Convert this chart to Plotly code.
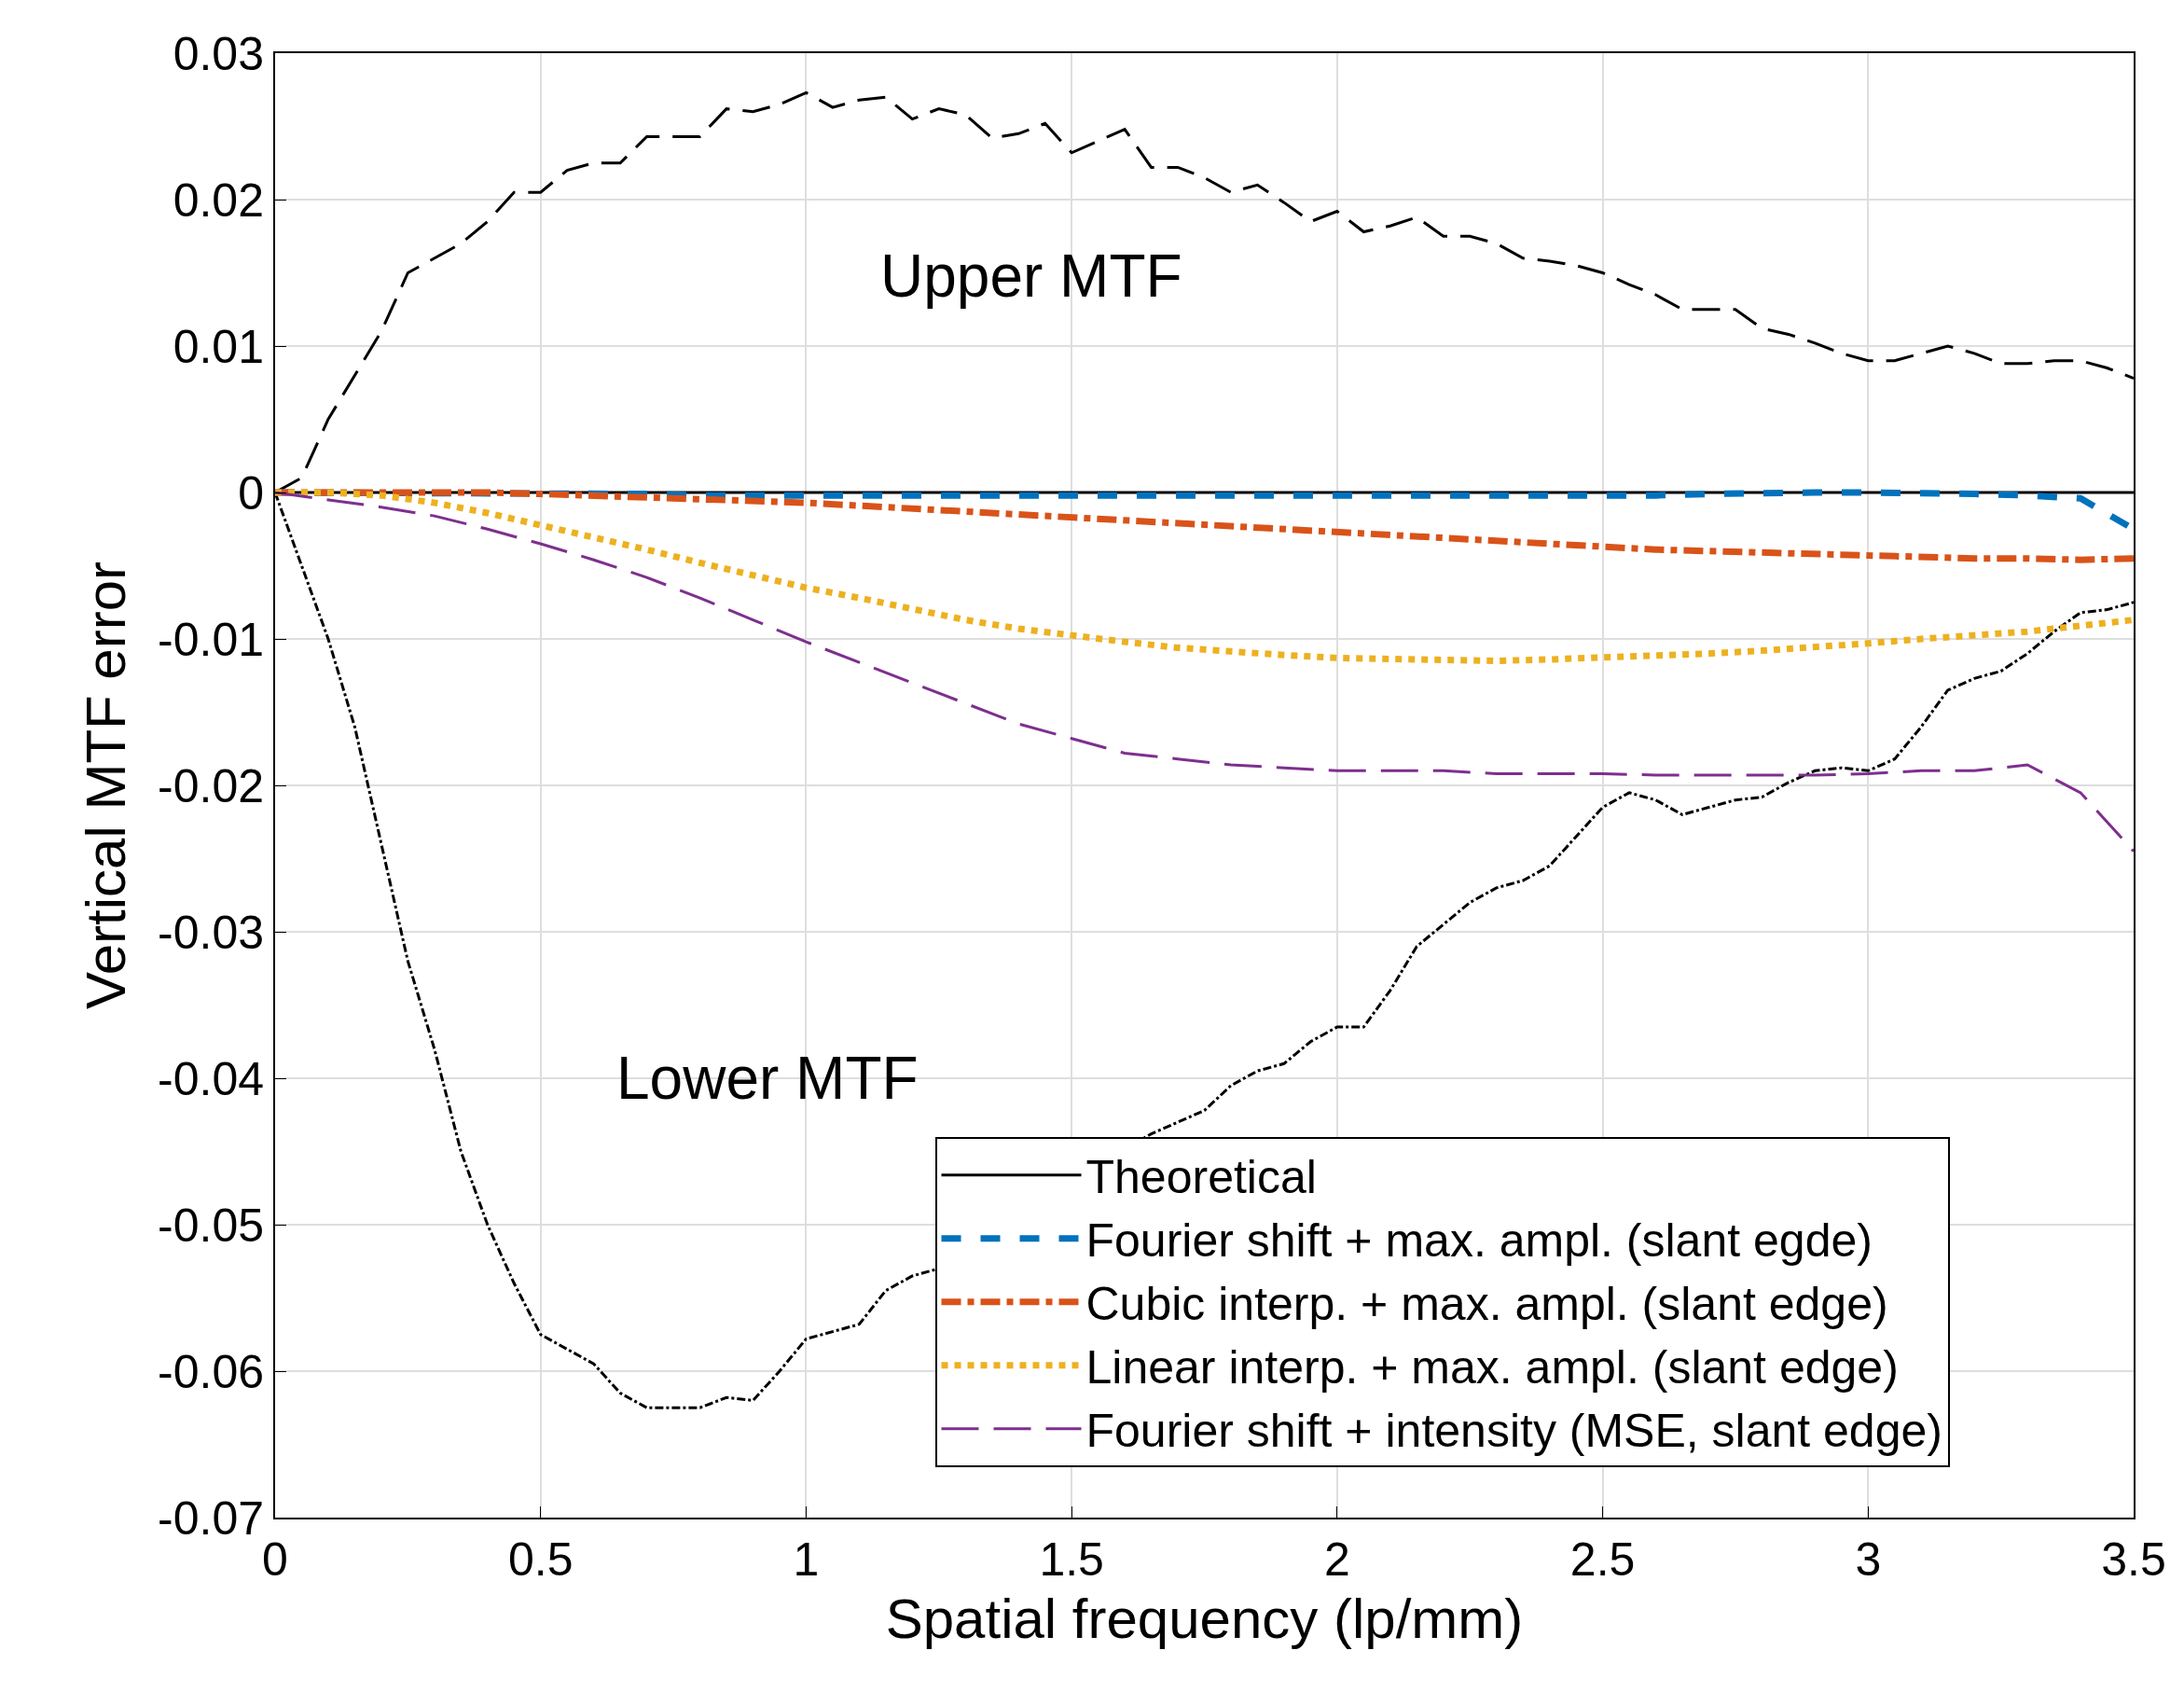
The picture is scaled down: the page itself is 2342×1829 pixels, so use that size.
import plotly.graph_objects as go

x_fine = [round(0.05 * i, 2) for i in range(71)]
upper_mtf = [0, 0.001, 0.005, 0.008, 0.011, 0.015, 0.016, 0.017, 0.0185, 0.0205,
             0.0205, 0.022, 0.0225, 0.0225, 0.0243, 0.0243, 0.0243, 0.0262, 0.026, 0.0265,
             0.0273, 0.0263, 0.0268, 0.027, 0.0255, 0.0262, 0.0258, 0.0242, 0.0245, 0.0252,
             0.0232, 0.024, 0.0248, 0.0222, 0.0222, 0.0215, 0.0205, 0.021, 0.0198, 0.0185,
             0.0192, 0.0178, 0.0182, 0.0188, 0.0175, 0.0175, 0.017, 0.016, 0.0158, 0.0155,
             0.015, 0.0142, 0.0135, 0.0125, 0.0125, 0.0125, 0.0112, 0.0108, 0.0102, 0.0095,
             0.009, 0.009, 0.0095, 0.01, 0.0095, 0.0088, 0.0088, 0.009, 0.009, 0.0085, 0.0078]
lower_mtf = [0, -0.005, -0.01, -0.016, -0.024, -0.032, -0.038, -0.045, -0.05, -0.054,
             -0.0575, -0.0585, -0.0595, -0.0615, -0.0625, -0.0625, -0.0625, -0.0618, -0.062, -0.06,
             -0.0578, -0.0573, -0.0568, -0.0545, -0.0535, -0.053, -0.052, -0.051, -0.05, -0.049,
             -0.048, -0.047, -0.0448, -0.0438, -0.043, -0.0422, -0.0405, -0.0395, -0.039, -0.0375,
             -0.0365, -0.0365, -0.034, -0.031, -0.0295, -0.028, -0.027, -0.0265, -0.0255, -0.0235,
             -0.0215, -0.0205, -0.021, -0.022, -0.0215, -0.021, -0.0208, -0.0198, -0.019, -0.0188,
             -0.019, -0.0182, -0.016, -0.0135, -0.0127, -0.0122, -0.011, -0.0095, -0.0082, -0.008, -0.0075]

x_coarse = [round(0.1 * i, 1) for i in range(36)]
theoretical = [0] * 36
fourier_max = [0, 0, 0, 0, 0, -0.0001, -0.0001, -0.0001, -0.0002, -0.0002,
               -0.0002, -0.0003, -0.0003, -0.0003, -0.0003, -0.0003, -0.0003, -0.0003, -0.0003, -0.0003,
               -0.0003, -0.0003, -0.0003, -0.0003, -0.0003, -0.0002, -0.0002, -0.0001, 0, 0,
               0, 0, -0.0001, -0.0002, -0.0004, -0.0025]
cubic_max = [0, 0, 0.0001, 0.0001, 0, -0.0001, -0.0002, -0.0003, -0.0004, -0.0005,
             -0.0007, -0.0009, -0.0011, -0.0013, -0.0015, -0.0017, -0.0019, -0.0021, -0.0024, -0.0026,
             -0.0028, -0.003, -0.0032, -0.0034, -0.0036, -0.0038, -0.0039, -0.004, -0.0041, -0.0043,
             -0.0044, -0.0044, -0.0045, -0.0045, -0.0046, -0.0045]
linear_max = [0, 0, -0.0002, -0.0007, -0.0014, -0.0022, -0.003, -0.0039, -0.0048, -0.0057,
              -0.0065, -0.0072, -0.008, -0.0087, -0.0093, -0.0098, -0.0102, -0.0106, -0.0109, -0.0111,
              -0.0113, -0.0114, -0.0114, -0.0115, -0.0114, -0.0113, -0.0112, -0.011, -0.0108, -0.0106,
              -0.0103, -0.01, -0.0098, -0.0095, -0.0091, -0.0087]
fourier_mse = [0, -0.0005, -0.001, -0.0016, -0.0025, -0.0035, -0.0046, -0.0058, -0.0072, -0.0087,
               -0.0102, -0.0116, -0.013, -0.0144, -0.0158, -0.0168, -0.0178, -0.0182, -0.0186, -0.0188,
               -0.019, -0.019, -0.019, -0.0192, -0.0192, -0.0192, -0.0193, -0.0193, -0.0193, -0.0193,
               -0.0192, -0.019, -0.019, -0.0186, -0.0205, -0.0245]

y_tickvals = [0.03, 0.02, 0.01, 0, -0.01, -0.02, -0.03, -0.04, -0.05, -0.06, -0.07]
y_ticktext = ["0.03", "0.02", "0.01", "0", "-0.01", "-0.02", "-0.03", "-0.04", "-0.05", "-0.06", "-0.07"]
x_tickvals = [0, 0.5, 1, 1.5, 2, 2.5, 3, 3.5]
x_ticktext = ["0", "0.5", "1", "1.5", "2", "2.5", "3", "3.5"]

FONT = "Liberation Sans, Arial, sans-serif"

fig = go.Figure()
fig.add_trace(go.Scatter(x=x_fine, y=upper_mtf, mode="lines", showlegend=False,
                         line=dict(color="black", width=3, dash="30px,14px")))
fig.add_trace(go.Scatter(x=x_fine, y=lower_mtf, mode="lines", showlegend=False,
                         line=dict(color="black", width=3, dash="dashdot")))
fig.add_trace(go.Scatter(x=x_coarse, y=theoretical, mode="lines", name="Theoretical",
                         line=dict(color="black", width=3)))
fig.add_trace(go.Scatter(x=x_coarse, y=fourier_max, mode="lines",
                         name="Fourier shift + max. ampl. (slant egde)",
                         line=dict(color="#0072BD", width=7, dash="dash")))
fig.add_trace(go.Scatter(x=x_coarse, y=cubic_max, mode="lines",
                         name="Cubic interp. + max. ampl. (slant edge)",
                         line=dict(color="#D95319", width=7, dash="dashdot")))
fig.add_trace(go.Scatter(x=x_coarse, y=linear_max, mode="lines",
                         name="Linear interp. + max. ampl. (slant edge)",
                         line=dict(color="#EDB120", width=7, dash="dot")))
fig.add_trace(go.Scatter(x=x_coarse, y=fourier_mse, mode="lines",
                         name="Fourier shift + intensity (MSE, slant edge)",
                         line=dict(color="#7E2F8E", width=3, dash="40px,16px")))

fig.add_annotation(x=1.425, y=0.0148, text="Upper MTF", showarrow=False,
                   font=dict(size=64, color="black"))
fig.add_annotation(x=0.927, y=-0.040, text="Lower MTF", showarrow=False,
                   font=dict(size=64, color="black"))

axis = dict(showline=True, linecolor="black", linewidth=2, mirror=True,
            ticks="inside", ticklen=12, tickcolor="black", automargin=False,
            showgrid=True, gridcolor="#dedede", gridwidth=2, zeroline=False,
            tickfont=dict(size=50, color="black"))
fig.update_xaxes(range=[0, 3.5], tickvals=x_tickvals, ticktext=x_ticktext,
                 title=dict(text="Spatial frequency (lp/mm)", font=dict(size=60, color="black"), standoff=15),
                 **axis)
fig.update_yaxes(range=[-0.07, 0.03], tickvals=y_tickvals, ticktext=y_ticktext,
                 title=dict(text="Vertical MTF error", font=dict(size=60, color="black"), standoff=15),
                 **axis)

fig.update_layout(
    width=2342, height=1829,
    margin=dict(l=287, r=62, t=49, b=210),
    plot_bgcolor="white", paper_bgcolor="white",
    font=dict(family=FONT, color="black"),
    legend=dict(x=0.355, y=0.26, xanchor="left", yanchor="top",
                bgcolor="white", bordercolor="black", borderwidth=2,
                font=dict(size=50, color="black"), itemwidth=150, tracegroupgap=0),
)

fig.write_html("out.html")
